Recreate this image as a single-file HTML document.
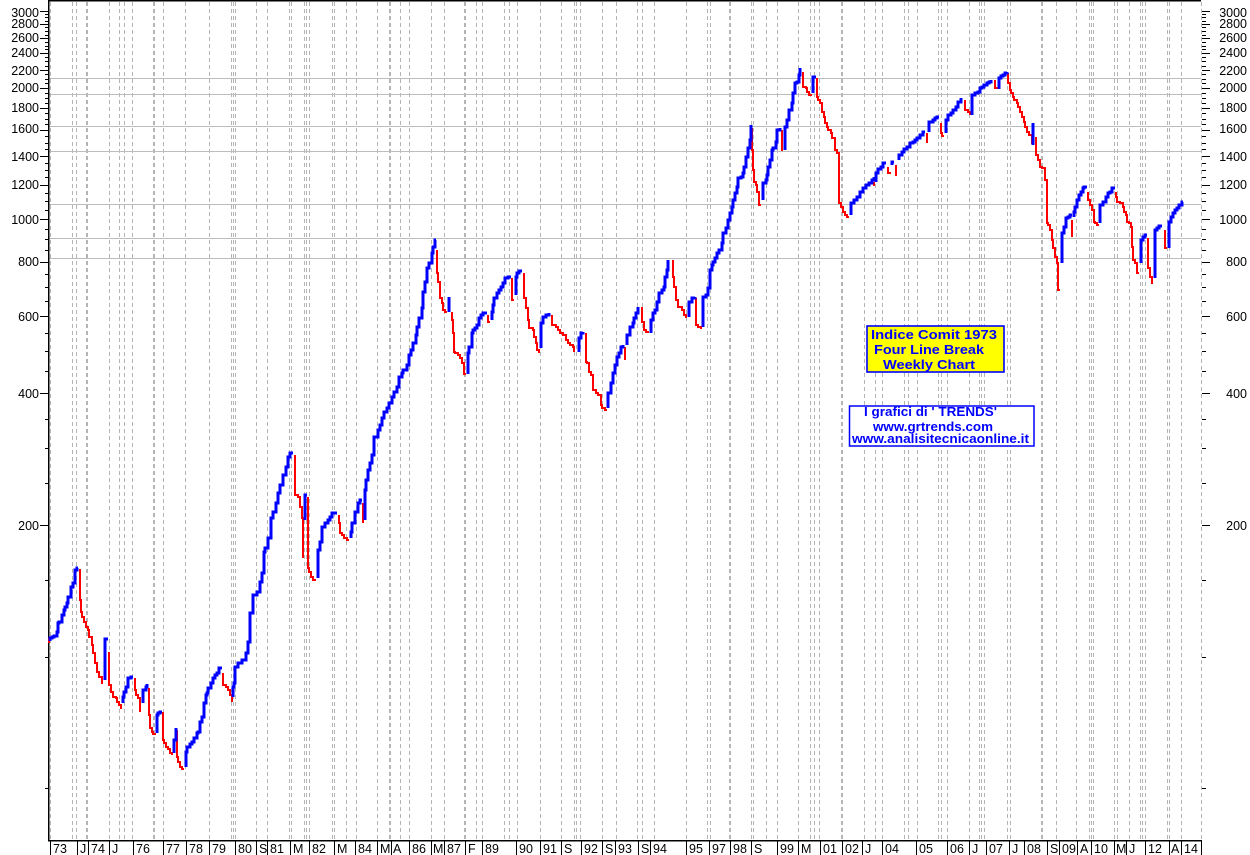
<!DOCTYPE html>
<html><head><meta charset="utf-8"><style>
html,body{margin:0;padding:0;background:#fff;}
svg{display:block;}
</style></head><body>
<svg width="1250" height="855" xmlns="http://www.w3.org/2000/svg" font-family="'Liberation Sans', Arial, sans-serif">
<rect width="1250" height="855" fill="#fff"/>

<!-- vertical dashed grid -->
<path stroke="#b4b4b4" stroke-width="1" stroke-dasharray="4 3" fill="none" shape-rendering="crispEdges" d="M50.5 2V840M72.5 2V840M76.5 2V840M109.5 2V840M119.5 2V840M124.5 2V840M132.5 2V840M163.5 2V840M185.5 2V840M209.5 2V840M231.5 2V840M233.5 2V840M235.5 2V840M256.5 2V840M267.5 2V840M289.5 2V840M291.5 2V840M304.5 2V840M306.5 2V840M309.5 2V840M332.5 2V840M334.5 2V840M346.5 2V840M356.5 2V840M377.5 2V840M400.5 2V840M409.5 2V840M431.5 2V840M444.5 2V840M476.5 2V840M482.5 2V840M504.5 2V840M509.5 2V840M517.5 2V840M540.5 2V840M561.5 2V840M574.5 2V840M576.5 2V840M580.5 2V840M602.5 2V840M616.5 2V840M637.5 2V840M642.5 2V840M654.5 2V840M686.5 2V840M707.5 2V840M710.5 2V840M751.5 2V840M753.5 2V840M766.5 2V840M777.5 2V840M798.5 2V840M810.5 2V840M814.5 2V840M819.5 2V840M864.5 2V840M875.5 2V840M882.5 2V840M904.5 2V840M908.5 2V840M917.5 2V840M938.5 2V840M941.5 2V840M947.5 2V840M969.5 2V840M979.5 2V840M981.5 2V840M984.5 2V840M1007.5 2V840M1010.5 2V840M1056.5 2V840M1076.5 2V840M1089.5 2V840M1091.5 2V840M1093.5 2V840M1114.5 2V840M1117.5 2V840M1129.5 2V840M1140.5 2V840M1142.5 2V840M1145.5 2V840M1167.5 2V840M1169.5 2V840M1181.5 2V840M1201.5 2V840"/>
<path stroke="#b4b4b4" stroke-width="2" stroke-dasharray="4 3" fill="none" shape-rendering="crispEdges" d="M87 2V840M154 2V840M390 2V840M465 2V840M730 2V840M842 2V840M1042 2V840"/>

<!-- horizontal grid -->
<path stroke="#bcbcbc" stroke-width="1" fill="none" shape-rendering="crispEdges" d="M49 78.5H1201M49 94.5H1201M49 126.5H1201M49 151.5H1201M49 204.5H1201M49 238.5H1201M49 258.5H1201"/>

<!-- frame -->
<path stroke="#000" stroke-width="1.5" fill="none" shape-rendering="crispEdges" d="M48.5 0V841M48 0.5H1201M48 840.5H1202"/>

<!-- ticks -->
<path stroke="#000" stroke-width="1" fill="none" shape-rendering="crispEdges" d="M40 525.5H48M40 393.5H48M40 316.5H48M40 262.5H48M40 219.5H48M40 185.5H48M40 156.5H48M40 130.5H48M40 108.5H48M40 88.5H48M40 70.5H48M40 53.5H48M40 38.5H48M40 24.5H48M40 11.5H48
M45 788.5H48M45 657.5H48M45 580.5H48M45 483.5H48M45 448.5H48M45 419.5H48M45 371.5H48M45 351.5H48M45 333.5H48M45 301.5H48M45 287.5H48M45 274.5H48M45 250.5H48M45 239.5H48M45 229.5H48M45 210.5H48M45 201.5H48M45 193.5H48M45 177.5H48M45 170.5H48M45 163.5H48M45 149.5H48M45 143.5H48M45 136.5H48M45 124.5H48M45 119.5H48M45 113.5H48M45 103.5H48M45 98.5H48M45 93.5H48M45 83.5H48M45 79.5H48M45 74.5H48M45 66.5H48M45 61.5H48M45 57.5H48M45 49.5H48M45 46.5H48M45 42.5H48M45 35.5H48M45 31.5H48M45 27.5H48M45 21.5H48M45 17.5H48M45 14.5H48
M1202 525.5H1210M1202 393.5H1210M1202 316.5H1210M1202 262.5H1210M1202 219.5H1210M1202 185.5H1210M1202 156.5H1210M1202 130.5H1210M1202 108.5H1210M1202 88.5H1210M1202 70.5H1210M1202 53.5H1210M1202 38.5H1210M1202 24.5H1210M1202 11.5H1210
M1202 788.5H1206M1202 657.5H1206M1202 580.5H1206M1202 483.5H1206M1202 448.5H1206M1202 419.5H1206M1202 371.5H1206M1202 351.5H1206M1202 333.5H1206M1202 301.5H1206M1202 287.5H1206M1202 274.5H1206M1202 250.5H1206M1202 239.5H1206M1202 229.5H1206M1202 210.5H1206M1202 201.5H1206M1202 193.5H1206M1202 177.5H1206M1202 170.5H1206M1202 163.5H1206M1202 149.5H1206M1202 143.5H1206M1202 136.5H1206M1202 124.5H1206M1202 119.5H1206M1202 113.5H1206M1202 103.5H1206M1202 98.5H1206M1202 93.5H1206M1202 83.5H1206M1202 79.5H1206M1202 74.5H1206M1202 66.5H1206M1202 61.5H1206M1202 57.5H1206M1202 49.5H1206M1202 46.5H1206M1202 42.5H1206M1202 35.5H1206M1202 31.5H1206M1202 27.5H1206M1202 21.5H1206M1202 17.5H1206M1202 14.5H1206"/>

<!-- y labels -->
<g font-size="12.5" fill="#000" text-anchor="end">
<text x="39" y="530">200</text><text x="39" y="398">400</text><text x="39" y="321">600</text><text x="39" y="266">800</text>
<text x="39" y="224">1000</text><text x="39" y="189">1200</text><text x="39" y="161">1400</text><text x="39" y="133">1600</text>
<text x="39" y="112">1800</text><text x="39" y="92">2000</text><text x="39" y="75">2200</text><text x="39" y="57">2400</text>
<text x="39" y="42">2600</text><text x="39" y="28">2800</text><text x="39" y="17">3000</text>
<text x="1247" y="530">200</text><text x="1247" y="398">400</text><text x="1247" y="321">600</text><text x="1247" y="266">800</text>
<text x="1247" y="224">1000</text><text x="1247" y="189">1200</text><text x="1247" y="161">1400</text><text x="1247" y="133">1600</text>
<text x="1247" y="112">1800</text><text x="1247" y="92">2000</text><text x="1247" y="75">2200</text><text x="1247" y="57">2400</text>
<text x="1247" y="42">2600</text><text x="1247" y="28">2800</text><text x="1247" y="17">3000</text>
</g>

<!-- bottom label separators -->
<path stroke="#000" stroke-width="1" fill="none" shape-rendering="crispEdges" d="M50.5 840V855M77.5 840V855M88.5 840V855M109.5 840V855M133.5 840V855M163.5 840V855M186.5 840V855M209.5 840V855M235.5 840V855M256.5 840V855M267.5 840V855M290.5 840V855M309.5 840V855M334.5 840V855M355.5 840V855M377.5 840V855M391.5 840V855M409.5 840V855M431.5 840V855M444.5 840V855M465.5 840V855M482.5 840V855M516.5 840V855M540.5 840V855M561.5 840V855M581.5 840V855M602.5 840V855M615.5 840V855M638.5 840V855M650.5 840V855M686.5 840V855M709.5 840V855M730.5 840V855M751.5 840V855M777.5 840V855M798.5 840V855M820.5 840V855M842.5 840V855M862.5 840V855M882.5 840V855M916.5 840V855M947.5 840V855M969.5 840V855M986.5 840V855M1009.5 840V855M1024.5 840V855M1047.5 840V855M1059.5 840V855M1077.5 840V855M1091.5 840V855M1114.5 840V855M1126.5 840V855M1145.5 840V855M1169.5 840V855M1181.5 840V855M1201.5 840V855"/>
<g font-size="12.5" fill="#000">
<text x="53" y="853">73</text><text x="80" y="853">J</text><text x="91" y="853">74</text><text x="112" y="853">J</text><text x="136" y="853">76</text><text x="166" y="853">77</text><text x="189" y="853">78</text><text x="212" y="853">79</text><text x="238" y="853">80</text><text x="259" y="853">S</text><text x="270" y="853">81</text><text x="293" y="853">M</text><text x="312" y="853">82</text><text x="337" y="853">M</text><text x="358" y="853">84</text><text x="380" y="853">M</text><text x="393" y="853">A</text><text x="412" y="853">86</text><text x="433" y="853">M</text><text x="447" y="853">87</text><text x="468" y="853">F</text><text x="485" y="853">89</text><text x="519" y="853">90</text><text x="543" y="853">91</text><text x="564" y="853">S</text><text x="584" y="853">92</text><text x="605" y="853">S</text><text x="618" y="853">93</text><text x="641" y="853">S</text><text x="653" y="853">94</text><text x="689" y="853">95</text><text x="712" y="853">97</text><text x="733" y="853">98</text><text x="754" y="853">S</text><text x="780" y="853">99</text><text x="801" y="853">M</text><text x="823" y="853">01</text><text x="845" y="853">02</text><text x="865" y="853">J</text><text x="885" y="853">04</text><text x="919" y="853">05</text><text x="950" y="853">06</text><text x="972" y="853">J</text><text x="989" y="853">07</text><text x="1012" y="853">J</text><text x="1027" y="853">08</text><text x="1050" y="853">S</text><text x="1062" y="853">09</text><text x="1080" y="853">A</text><text x="1094" y="853">10</text><text x="1116" y="853">M</text><text x="1129" y="853">J</text><text x="1148" y="853">12</text><text x="1171" y="853">A</text><text x="1184" y="853">14</text>
</g>

<!-- down runs (red) -->
<path fill="none" stroke="#ff0000" stroke-width="2" stroke-linejoin="miter" stroke-linecap="butt" d="
M49 638V643
M80 569V600H81V612H82V617H84V622H86V627H88V630H89V637H92V645H93V653H95V663H97V672H99V677H102V683H103
M109 652V685H111V692H113V697H116V698H117V702H119V705H121V709
M135 678V690H136V695H138V698H140V712
M149 688V715H150V728H152V732H153V734H156
M163 712V740H164V743H166V747H168V749H170V753H172V755
M177 730V757H178V762H180V767H182V769H184
M223 673V685H226V687H228V690H230V695H232V702
M295 455V495H298V497H300V507H302V518H303V558
M308 497V568H309V572H311V577H313V580H316
M339 515V523H340V533H342V535H344V538H347V540H349
M363 503V523
M437 250V273H438V282H440V298H442V303H443V310H445V312H447
M452 312V320H453V333H454V352H455V353H458V355H460V358H462V363H464V374H466
M488 315V322H490
M512 278V300H514
M524 273V298H526V308H528V320H529V328H533V330H534V337H536V343H537V350H539V353
M552 315V325H556V327H558V330H560V333H563V335H566V340H568V343H570V345H573V347H574V352
M586 333V362H587V363H589V372H591V375H593V390H596V393H598V395H601V405H602V408H605V410H607
M625 347V360
M642 307V322H644V330H646V332H648V333
M673 260V277H674V287H676V300H678V307H682V310H684V315H686V317H687
M696 298V325H698V327H701V329
M752 128V150H753V170H754V182H756V185H757V192H759V205H761
M782 130V150H783
M803 72V87H806V88H807V92H809V95H812
M817 78V97H818V100H820V103H822V112H824V117H825V123H827V127H828V130H831V133H832V138H835V150H837V153H839V203H841V207H843V212H845V215H847V217H849
M874 182V186
M888 167V173H891
M896 165V175H897
M927 133V143
M941 123V133H942V136H944
M965 100V110H968V112H970V115
M995 80V88H997V89
M1008 73V78V83H1010V90H1011V93H1013V97H1014V100H1017V103H1018V107H1020V112H1022V117H1024V122H1025V127H1027V132H1029V135H1032V143H1033
M1036 137V150V155H1038V160H1040V167H1042V168H1045V180H1047V223H1048V225H1050V230H1052V240H1053V248H1055V257H1057V263H1058V290H1060
M1072 220V237
M1088 192V200H1090V205H1092V210H1094V222H1095V223H1097V225H1099
M1116 192V197H1117V202H1120V203H1123V207H1124V212H1126V215H1127V222H1129V223H1131V227H1132V247H1133V260H1135V263H1137V273H1139
M1148 238V267V268H1150V277H1152V283H1153
M1165 230V238V248H1167
"/>

<!-- up runs (blue) -->
<path fill="none" stroke="#0000ff" stroke-width="3" stroke-linejoin="miter" stroke-linecap="butt" d="
M50 641V638H52V637H54V636H57V632H58V623H59V622H62V615H64V610H65V607H67V603H68V597H71V587H73V583H75V570H77V568H78
M105 680V639H108
M123 703V697H124V692H126V687H128V678H131V677H133
M143 703V690H146V687H147V684
M157 733V715H158V713H160V712H162
M174 753V740H176V728
M186 767V752H187V747H190V744H192V742H194V738H197V733H198V732H200V722H202V717H204V703H206V695H207V693H208V688H211V683H213V678H215V675H217V673H219V668H222
M233 697V687H234V683H235V667H238V663H242V660H246V653H248V642H250V613H253V595H257V592H260V582H262V573H264V552H265V548H268V538H271V518H273V512H276V503H278V493H280V485H283V475H286V467H288V457H290V453H293
M305 520V495H307
M318 578V550H320V542H322V527H325V523H328V520H330V517H332V513H337
M351 538V532H352V523H355V512H358V503H360V500H362
M365 520V490H366V480H368V470H370V463H372V455H374V437H378V430H380V425H382V418H384V412H387V408H389V403H392V397H394V392H397V387H399V377H402V373H403V370H407V365H409V355H411V350H413V343H416V335H417V327H419V318H422V308H423V292H425V282H427V268H429V263H432V253H433V247H435V240H436
M449 312V297
M468 374V353H469V347H472V333H473V330H475V328H477V325H479V318H481V315H483V313H487
M492 320V312H493V305H494V298H497V293H499V290H501V287H503V283H505V278H508V277H511
M516 295V277H517V273H519V271H522
M541 348V323H543V317H546V315H549V313
M579 352V338H581V333H583V332
M608 408V393H611V383H613V373H615V365H617V357H619V353H621V347H623V345
M627 345V335H630V327H633V323H634V318H636V313H638V307
M651 333V320H653V313H655V310H657V302H659V293H662V290H664V287H665V277H667V270H668V260
M689 317V302H692V298H695V297
M703 327V297H706V295H708V288H710V270H712V265H713V262H715V258H717V253H719V250H722V243H723V233H726V228H728V220H730V213H732V207H733V200H735V193H737V187H738V178H741V177H743V173H744V167H746V157H748V148H750V140H751V125
M763 200V183H766V180H767V175H768V167H770V160H772V150H773V148H776V142H777V130H780V128
M785 150V127H787V120H789V110H792V103H793V93H795V83H797V82H799V75H800V68
M813 93V77H816
M851 215V203H854V200H857V197H860V192H863V188H866V185H869V183H872V180H874V177
M876 182V173H878V169H881V167H883V163H886
M892 165V162H894
M899 160V155H902V152H904V149H907V147H910V143H913V142H915V140H917V138H920V135H923V132H925
M929 132V122H933V120H935V118H937V117H939
M946 133V120H948V115H951V113H953V110H956V107H958V102H961V98
M972 115V95H975V93H978V92H980V88H982V87H984V85H987V83H989V82H991V80
M999 89V78H1001V76H1003V75H1005V73H1007V72
M1033 145V123
M1062 263V235V233H1064V227H1066V218H1068V217H1070V215H1072
M1074 217V212H1075V207H1077V200H1079V195H1081V192H1083V188H1084V187H1087
M1100 223V210V205H1103V202H1106V197H1108V193H1110V192H1112V188H1115
M1141 263V247V240H1143V237H1145V235H1147
M1155 278V233V230H1157V228H1159V226H1162
M1169 248V225V222H1171V217H1173V213H1175V210H1177V208H1179V205H1182V202H1183
"/>

<!-- yellow title box -->
<rect x="867" y="326" width="137" height="46" fill="#ffff00" stroke="#0000ff" stroke-width="1.6"/>
<g font-size="13" font-weight="bold" fill="#0000ff">
<text x="871" y="339" textLength="126" lengthAdjust="spacingAndGlyphs">Indice Comit  1973</text>
<text x="874" y="354" textLength="110" lengthAdjust="spacingAndGlyphs">Four Line Break</text>
<text x="883" y="369" textLength="92" lengthAdjust="spacingAndGlyphs">Weekly Chart</text>
</g>

<!-- white credits box -->
<rect x="849.5" y="406" width="184.5" height="40" fill="#ffffff" stroke="#0000ff" stroke-width="1.5"/>
<g font-size="13" font-weight="bold" fill="#0000ff">
<text x="864" y="416" textLength="133" lengthAdjust="spacingAndGlyphs">I grafici di ' TRENDS'</text>
<text x="873" y="431" textLength="120" lengthAdjust="spacingAndGlyphs">www.grtrends.com</text>
<text x="852" y="443" textLength="177" lengthAdjust="spacingAndGlyphs">www.analisitecnicaonline.it</text>
</g>
</svg>
</body></html>
